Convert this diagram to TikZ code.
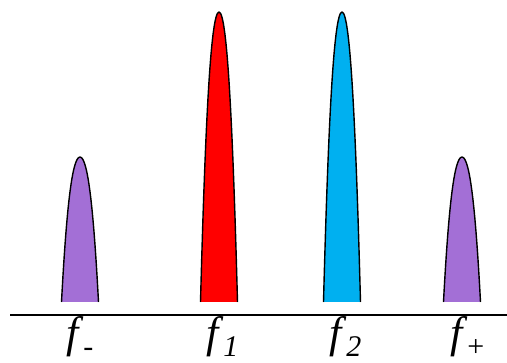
\documentclass[tikz,border=0pt]{standalone}
\usepackage{fontspec}
\setmainfont{Liberation Serif}
\newcommand{\flab}[1]{\textit{f}\raisebox{-0.2em}{\fontsize{30}{32}\selectfont #1}}
\begin{document}
\begin{tikzpicture}[x=1pt,y=-1pt,
  peak/.style={draw=black,line width=1.4pt,line join=round},
  lab/.style={inner sep=0pt,anchor=base west,font=\fontsize{44}{48}\selectfont}]
\definecolor{lilac}{HTML}{A36FD6}
\definecolor{sky}{HTML}{00B0F0}
\useasboundingbox (0,0) rectangle (507,363);
\newcommand{\peakshape}[4]{% x center, top y, half width, color
  \filldraw[peak,fill=#4] (#1-#3,302) .. controls (#1-#3*0.75,{302-(302-#2)*0.6}) and (#1-#3*0.45,#2) .. (#1,#2)
    .. controls (#1+#3*0.45,#2) and (#1+#3*0.75,{302-(302-#2)*0.6}) .. (#1+#3,302);}
\peakshape{80}{157}{18.5}{lilac}
\peakshape{219}{12}{18.5}{red}
\peakshape{342}{12}{18.5}{sky}
\peakshape{462}{157}{18.5}{lilac}
\coordinate (l) at (10,315);
\coordinate (r) at (507,315);
\draw[line width=2.5pt] (l) -- (r);
\node[lab] (fm) at (66,348) {\flab{-}};
\node[lab] (f1) at (206,348) {\flab{\textit{1}}};
\node[lab] (f2) at (329,348) {\flab{\textit{2}}};
\node[lab] (fp) at (450,348) {\flab{+}};
\end{tikzpicture}
\end{document}
